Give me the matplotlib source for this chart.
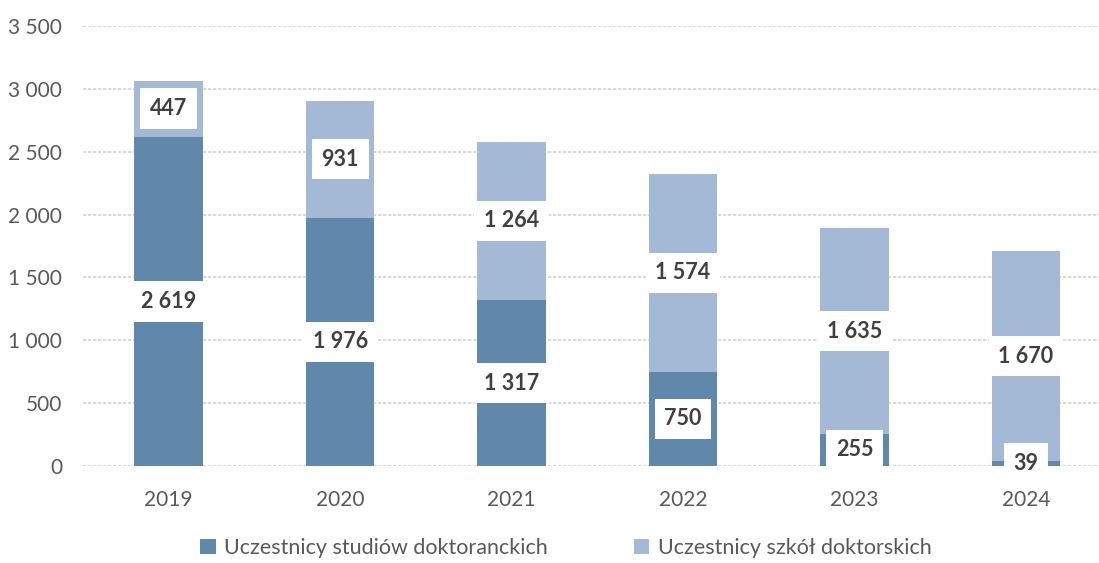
import numpy as np
import matplotlib.pyplot as plt
from matplotlib.ticker import FuncFormatter, MultipleLocator

# --- dane ---
lata = ["2019", "2020", "2021", "2022", "2023", "2024"]
studia_dokt = [2619, 1976, 1317, 750, 255, 39]
szkoly_dokt = [447, 931, 1264, 1574, 1635, 1670]
etykiety = ["Uczestnicy studiów doktoranckich", "Uczestnicy szkół doktorskich"]

KOLOR_CIEMNY = "#5f88ab"
KOLOR_JASNY = "#a3b9d5"
KOLOR_TEKSTU = "#595959"

plt.rcParams["font.family"] = ["Lato", "DejaVu Sans"]


def fmt_pl(v):
    return f"{int(v):,}".replace(",", " ")


fig = plt.figure(figsize=(10.99, 5.63), dpi=100)
ax = fig.add_axes([0.0755, 0.1723, 0.936, 0.7815])

x = np.arange(len(lata))
w = 0.40
dolne = np.array(studia_dokt)
gorne = np.array(szkoly_dokt)

b1 = ax.bar(x, dolne, width=w, color=KOLOR_CIEMNY, label=etykiety[0], zorder=2)
b2 = ax.bar(x, gorne, width=w, bottom=dolne, color=KOLOR_JASNY, label=etykiety[1], zorder=2)

# etykiety wartości w białych ramkach, na środku każdego segmentu
box = dict(boxstyle="square,pad=0.45", fc="white", ec="none")
for xi, d, g in zip(x, dolne, gorne):
    ax.text(xi, d / 2, fmt_pl(d), ha="center", va="center", fontsize=15.5,
            fontweight="bold", color="#404040", bbox=box, zorder=3)
    ax.text(xi, d + g / 2, fmt_pl(g), ha="center", va="center", fontsize=15.5,
            fontweight="bold", color="#404040", bbox=box, zorder=3)

ax.set_xlim(-0.5, len(lata) - 0.5)
ax.set_ylim(0, 3500)
ax.yaxis.set_major_locator(MultipleLocator(500))
ax.yaxis.set_major_formatter(FuncFormatter(lambda v, p: fmt_pl(v)))
ax.set_xticks(x)
ax.set_xticklabels(lata)
ax.tick_params(axis="y", length=0, pad=15, labelsize=15, labelcolor=KOLOR_TEKSTU)
ax.tick_params(axis="x", length=0, pad=17, labelsize=15, labelcolor=KOLOR_TEKSTU)
ax.grid(axis="y", color="#d3d3d3", linewidth=1.2, linestyle=(0, (2, 1)), zorder=0)
for s in ax.spines.values():
    s.set_visible(False)

fig.legend(handles=[b1, b2], labels=etykiety, loc="center", ncol=2,
           bbox_to_anchor=(0.515, 0.026), frameon=False, fontsize=15.5,
           labelcolor=KOLOR_TEKSTU, handlelength=0.7, handleheight=0.7,
           handletextpad=0.4, columnspacing=4.0)

fig.savefig("out.png", dpi=100)
